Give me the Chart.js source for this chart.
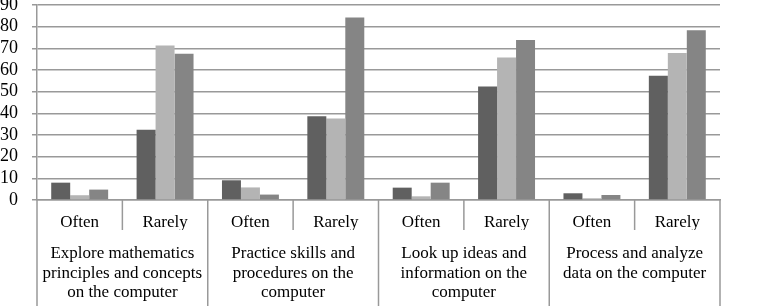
<!DOCTYPE html>
<html>
<head>
<meta charset="utf-8">
<script src="https://cdn.jsdelivr.net/npm/chart.js@4.4.1/dist/chart.umd.min.js"></script>
<style>
  html, body { margin: 0; padding: 0; background: #fff; overflow: hidden; }
  #wrap { width: 760px; height: 306px; position: relative; }
</style>
</head>
<body>
<div id="wrap"><canvas id="c" width="760" height="306"></canvas></div>
<script>
const categories = ["Often", "Rarely", "Often", "Rarely", "Often", "Rarely", "Often", "Rarely"];
const groups = [
  ["Explore mathematics", "principles and concepts", "on the computer"],
  ["Practice skills and", "procedures on the", "computer"],
  ["Look up ideas and", "information on the", "computer"],
  ["Process and analyze", "data on the computer"]
];
const seriesDark   = [8.0, 32.4, 9.1, 38.7, 5.7, 52.4, 3.1, 57.3];
const seriesLight  = [2.2, 71.3, 5.8, 37.6, 1.7, 65.8, 0.8, 67.9];
const seriesMedium = [4.8, 67.5, 2.5, 84.2, 8.0, 73.9, 2.3, 78.3];
const yTicks = [0, 10, 20, 30, 40, 50, 60, 70, 80, 90];

const FONT = { family: "'Liberation Serif', 'Times New Roman', serif", size: 17 };
const YFONT = { family: "'Liberation Serif', 'Times New Roman', serif", size: 18 };
const LINE = '#999999';

const separators = {
  id: 'separators',
  afterDraw(chart) {
    const x = chart.scales.x;
    const ctx = chart.ctx;
    ctx.save();
    ctx.strokeStyle = LINE;
    ctx.lineWidth = 1.5;
    for (let i = 0; i <= categories.length; i++) {
      const px = x.getPixelForValue(i - 0.5);
      const isGroup = i % 2 === 0;
      ctx.beginPath();
      ctx.moveTo(px, x.top);
      ctx.lineTo(px, isGroup ? chart.height : x.bottom);
      ctx.stroke();
    }
    ctx.restore();
  }
};

new Chart(document.getElementById('c'), {
  type: 'bar',
  data: {
    labels: categories,
    datasets: [
      { data: seriesDark, backgroundColor: '#606060', xAxisID: 'x' },
      { data: seriesLight, backgroundColor: '#b4b4b4', xAxisID: 'x' },
      { data: seriesMedium, backgroundColor: '#858585', xAxisID: 'x' }
    ]
  },
  options: {
    responsive: false,
    animation: false,
    events: [],
    datasets: { bar: { categoryPercentage: 0.667, barPercentage: 1.0, borderWidth: 0 } },
    layout: { padding: { top: 5, right: 40, left: 0, bottom: 0 } },
    plugins: { legend: { display: false }, tooltip: { enabled: false } },
    scales: {
      y: {
        min: 0, max: 90,
        afterBuildTicks(scale) { scale.ticks = yTicks.map(v => ({ value: v })); },
        afterFit(scale) { scale.width = 37; scale.paddingTop = 0; scale.paddingBottom = 0; },
        ticks: { font: YFONT, color: '#000', padding: 14, autoSkip: false },
        grid: { color: LINE, lineWidth: 1.5, tickLength: 5 },
        border: { color: LINE, width: 1.5 }
      },
      x: {
        type: 'category',
        position: 'bottom',
        weight: 0,
        afterFit(scale) { scale.height = 30; },
        ticks: { font: FONT, color: '#000', padding: 12, autoSkip: false, maxRotation: 0 },
        grid: { drawOnChartArea: false, drawTicks: false },
        border: { color: LINE, width: 1.5 }
      },
      x2: {
        type: 'category',
        position: 'bottom',
        weight: 1,
        labels: groups,
        afterFit(scale) { scale.height = 76; },
        ticks: { font: { ...FONT, lineHeight: 1.15 }, color: '#000', padding: 14, autoSkip: false, maxRotation: 0 },
        grid: { display: false, drawTicks: false },
        border: { display: false }
      }
    }
  },
  plugins: [separators]
});
</script>
</body>
</html>
